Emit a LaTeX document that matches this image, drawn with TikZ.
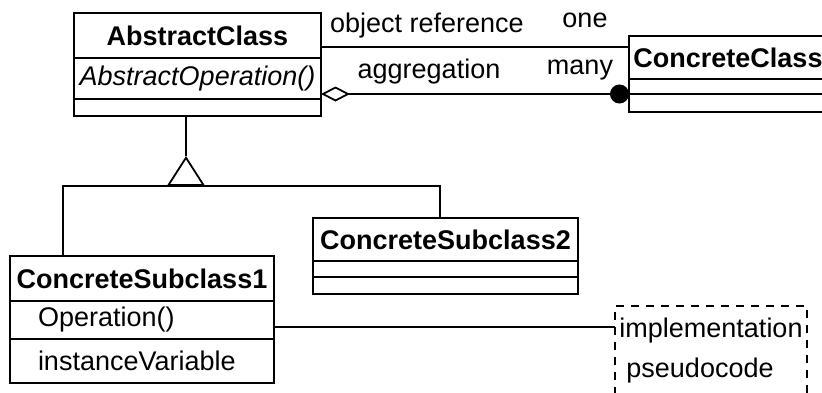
\documentclass[tikz,border=0pt]{standalone}
\usepackage{fontspec}
\setmainfont{Liberation Sans}
\usetikzlibrary{positioning,arrows.meta}

\newcommand\umlfont{\fontsize{27}{32}\selectfont}

\tikzset{
  uml/.style={draw=black, line width=1.8pt, outer sep=0pt, inner xsep=4pt, inner ysep=0pt, font=\umlfont},
  umlname/.style={uml, font=\umlfont\bfseries},
  umlpart/.style={uml},
  umlleft/.style={text width=208pt, inner xsep=28pt, align=left},
  note/.style={draw=black, line width=1.2pt, dash pattern=on 8pt off 7pt, outer sep=0pt,
    inner xsep=4pt, align=left, font=\fontsize{27}{40}\selectfont},
  lbl/.style={inner sep=0pt, font=\umlfont},
}

\begin{document}
\begin{tikzpicture}[x=1pt, y=-1pt, line width=1.8pt]
\useasboundingbox (0,0) rectangle (822,392);

% abstract class
\node[umlname, minimum width=247pt, minimum height=45pt, anchor=north west] (abs) at (74,13) {AbstractClass};
\node[umlpart, font=\umlfont\itshape, minimum width=247pt, minimum height=41pt, below=0pt of abs] (absops) {AbstractOperation()};
\node[umlpart, minimum width=247pt, minimum height=17pt, below=0pt of absops] (absvars) {};

% concrete class
\node[umlname, minimum width=198pt, minimum height=43pt, anchor=north west] (cc) at (629,36) {ConcreteClass};
\node[umlpart, minimum width=198pt, minimum height=15pt, below=0pt of cc] (ccops) {};
\node[umlpart, minimum width=198pt, minimum height=18pt, below=0pt of ccops] (ccvars) {};

% subclasses
\node[umlname, minimum width=265pt, minimum height=43pt, anchor=north west] (cs2) at (313,218) {ConcreteSubclass2};
\node[umlpart, minimum width=265pt, minimum height=16pt, below=0pt of cs2] (cs2ops) {};
\node[umlpart, minimum width=265pt, minimum height=17pt, below=0pt of cs2ops] (cs2vars) {};

\node[umlname, minimum width=264pt, minimum height=45pt, anchor=north west] (cs1) at (10,256) {ConcreteSubclass1};
\node[umlpart, umlleft, minimum height=38pt, below=0pt of cs1] (cs1ops) {Operation()};
\node[umlpart, umlleft, minimum height=44pt, below=0pt of cs1ops] (cs1vars) {instanceVariable};

% note
\node[note, minimum width=192pt, minimum height=90pt, anchor=north west] (impl) at (615,306) {implementation\\\hspace*{7pt}pseudocode};

% associations
\draw ([yshift=-11.5pt]abs.east) -- ([yshift=-11.5pt]abs.east -| cc.west);
\draw[{Diamond[open, length=29pt, width=15pt]}-{Circle[length=19pt]}] ([yshift=-15.5pt]absops.east) -- ([yshift=-15.5pt]absops.east -| cc.west);

\node[lbl, anchor=base] (objref) at (427,32) {object reference};
\node[lbl, anchor=base] (one) at (585,27) {one};
\node[lbl, anchor=base] (agg) at (429,78) {aggregation};
\node[lbl, anchor=base] (many) at (580,74) {many};

% inheritance
\coordinate (hub) at (186,186);
\coordinate (busL) at (63,186);
\coordinate (busR) at (440,186);
\draw[-{Triangle[open, length=30pt, width=38pt]}] (hub) -- ++(0,-30) coordinate (apex);
\draw (apex) -- (absvars.south -| apex);
\draw (cs1.north -| busL) -- (busL) -- (busR) -- (cs2.north -| busR);

% implementation
\draw ([yshift=-7pt]cs1ops.east) -- ([yshift=-7pt]cs1ops.east -| impl.west);
\end{tikzpicture}
\end{document}
